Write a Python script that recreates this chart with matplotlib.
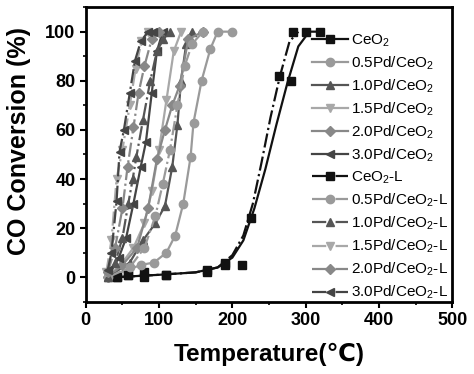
import matplotlib
matplotlib.use("Agg")
import matplotlib.pyplot as plt
from matplotlib.lines import Line2D
from matplotlib.ticker import MultipleLocator

plt.rcParams['font.family'] = ['Liberation Sans', 'DejaVu Sans']
plt.rcParams['mathtext.fontset'] = 'custom'
plt.rcParams['mathtext.rm'] = 'Liberation Sans'
plt.rcParams['mathtext.it'] = 'Liberation Sans:italic'
plt.rcParams['mathtext.bf'] = 'Liberation Sans:bold'

# temperatures (C) and CO conversion (%)
ceo2_t = [42, 57, 80, 110, 165, 190, 225, 280, 300, 320]
ceo2_c = [0, 1, 2, 1, 3, 6, 24, 80, 100, 100]
ceo2_fit_t = [40, 100, 150, 180, 200, 215, 230, 245, 260, 275, 290, 305, 320]
ceo2_fit_c = [0, 1, 2, 4, 8, 15, 28, 44, 62, 79, 94, 100, 100]

ceo2l_t = [42, 57, 80, 110, 165, 190, 213, 263, 283]
ceo2l_c = [0, 1, 0, 1, 2, 5, 5, 82, 100]
ceo2l_fit_t = [40, 100, 150, 180, 200, 215, 228, 240, 252, 265, 278, 290]
ceo2l_fit_c = [0, 1, 2, 4, 9, 17, 30, 47, 65, 82, 96, 100]

pd05_t = [30, 75, 93, 110, 122, 133, 143, 147, 158, 170, 180, 200]
pd05_c = [0, 5, 6, 10, 17, 30, 49, 63, 80, 93, 100, 100]
pd10_t = [30, 60, 78, 95, 108, 118, 125, 130, 137, 145]
pd10_c = [0, 6, 15, 22, 29, 45, 62, 80, 95, 100]
pd15_t = [30, 50, 65, 80, 90, 100, 110, 120, 130]
pd15_c = [0, 6, 12, 22, 35, 52, 72, 92, 100]
pd20_t = [30, 50, 70, 85, 97, 108, 118, 128, 140, 160]
pd20_c = [0, 5, 12, 28, 48, 60, 70, 78, 97, 100]
pd30_t = [30, 45, 55, 65, 75, 82, 90, 97, 105]
pd30_c = [0, 8, 16, 30, 45, 55, 75, 92, 100]

pd05l_t = [30, 60, 80, 95, 105, 115, 125, 135, 145, 160]
pd05l_c = [0, 4, 12, 25, 38, 52, 70, 86, 95, 100]
pd10l_t = [30, 40, 50, 58, 64, 69, 78, 88, 97, 106, 115]
pd10l_c = [0, 6, 16, 30, 40, 49, 64, 80, 92, 97, 100]
pd15l_t = [28, 35, 42, 50, 60, 68, 76, 85]
pd15l_c = [2, 15, 40, 52, 70, 85, 96, 100]
pd20l_t = [30, 40, 50, 57, 65, 72, 80, 90, 100]
pd20l_c = [2, 12, 28, 45, 61, 75, 86, 97, 100]
pd30l_t = [30, 35, 42, 46, 52, 60, 67, 75, 85, 92]
pd30l_c = [3, 10, 31, 51, 60, 75, 88, 96, 100, 100]

# (marker T, marker C, line T, line C, label, colour, marker, linestyle)
series = [
    (ceo2_t, ceo2_c, ceo2_fit_t, ceo2_fit_c, 'CeO$_2$', '#111111', 's', '-'),
    (pd05_t, pd05_c, pd05_t, pd05_c, '0.5Pd/CeO$_2$', '#9a9a9a', 'o', '-'),
    (pd10_t, pd10_c, pd10_t, pd10_c, '1.0Pd/CeO$_2$', '#555555', '^', '-'),
    (pd15_t, pd15_c, pd15_t, pd15_c, '1.5Pd/CeO$_2$', '#a8a8a8', 'v', '-'),
    (pd20_t, pd20_c, pd20_t, pd20_c, '2.0Pd/CeO$_2$', '#888888', 'D', '-'),
    (pd30_t, pd30_c, pd30_t, pd30_c, '3.0Pd/CeO$_2$', '#444444', '<', '-'),
    (ceo2l_t, ceo2l_c, ceo2l_fit_t, ceo2l_fit_c, 'CeO$_2$-L', '#111111', 's', '-.'),
    (pd05l_t, pd05l_c, pd05l_t, pd05l_c, '0.5Pd/CeO$_2$-L', '#9a9a9a', 'o', '-.'),
    (pd10l_t, pd10l_c, pd10l_t, pd10l_c, '1.0Pd/CeO$_2$-L', '#555555', '^', '-.'),
    (pd15l_t, pd15l_c, pd15l_t, pd15l_c, '1.5Pd/CeO$_2$-L', '#a8a8a8', 'v', '-.'),
    (pd20l_t, pd20l_c, pd20l_t, pd20l_c, '2.0Pd/CeO$_2$-L', '#888888', 'D', '-.'),
    (pd30l_t, pd30l_c, pd30l_t, pd30l_c, '3.0Pd/CeO$_2$-L', '#444444', '<', '-.'),
]

fig = plt.figure(figsize=(4.74, 3.74), dpi=100)
ax = fig.add_axes([0.181, 0.193, 0.773, 0.788])

handles = []
for mt, mc, lt, lc, lab, col, mk, ls in series:
    ms = 5 if mk == 'D' else 6
    ax.plot(lt, lc, linestyle=ls, color=col, linewidth=1.6)
    ax.plot(mt, mc, linestyle='none', color=col, marker=mk, markersize=ms)
    handles.append(Line2D([], [], linestyle=ls, color=col, marker=mk,
                          markersize=ms, linewidth=1.6, label=lab))

ax.set_xlim(0, 500)
ax.set_ylim(-10, 110)
ax.set_xticks([0, 100, 200, 300, 400, 500])
ax.set_yticks([0, 20, 40, 60, 80, 100])
ax.xaxis.set_minor_locator(MultipleLocator(50))
ax.yaxis.set_minor_locator(MultipleLocator(10))
ax.tick_params(which='major', direction='out', length=4, width=1.5, labelsize=13)
ax.tick_params(which='minor', direction='out', length=2, width=1.2)
for lbl in ax.get_xticklabels() + ax.get_yticklabels():
    lbl.set_fontweight('bold')
for sp in ax.spines.values():
    sp.set_linewidth(2)

ax.set_xlabel('Temperature(℃)', fontsize=17.5, fontweight='bold')
ax.set_ylabel('CO Conversion (%)', fontsize=18, fontweight='bold')
ax.xaxis.set_label_coords(0.5, -0.14)
ax.yaxis.set_label_coords(-0.15, 0.545)

ax.legend(handles=handles, loc='upper left', bbox_to_anchor=(0.6, 0.935),
          frameon=False, fontsize=11, handlelength=2.4, handletextpad=0.2,
          labelspacing=0.37, borderaxespad=0)

fig.savefig('out.png', dpi=100)
